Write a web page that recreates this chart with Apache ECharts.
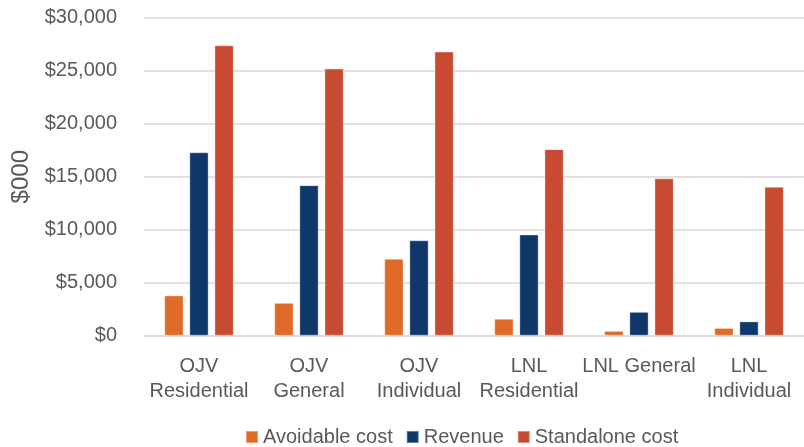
<!DOCTYPE html>
<html>
<head>
<meta charset="utf-8">
<script src="https://cdn.jsdelivr.net/npm/echarts@6/dist/echarts.min.js"></script>
<style>
  html, body { margin: 0; padding: 0; background: #fff; }
  #chart { width: 804px; height: 447px; }
</style>
</head>
<body>
<div id="chart"></div>
<script>
// Cost and revenue by service, in $000
const categories = ['OJV\nResidential', 'OJV\nGeneral', 'OJV\nIndividual', 'LNL\nResidential', 'LNL General', 'LNL\nIndividual'];
const avoidableCost = [3800, 3100, 7250, 1600, 450, 730];
const revenue = [17300, 14200, 9000, 9550, 2250, 1350];
const standaloneCost = [27400, 25200, 26800, 17600, 14850, 14050];
const yTicks = [0, 5000, 10000, 15000, 20000, 25000, 30000];

const font = "'Liberation Sans', Arial, sans-serif";
const textColor = '#595959';
const gridColor = '#D9D9D9';
const edge = 'rgba(255,255,255,0.35)';

const chart = echarts.init(document.getElementById('chart'), null, { renderer: 'canvas' });

const fmt = v => '$' + v.toLocaleString('en-US');

const barStyle = color => ({ color: color, borderColor: edge, borderWidth: 1 });

chart.setOption({
  animation: false,
  grid: { left: 144, right: 0, top: 17.7, bottom: 111.3, containLabel: false },
  legend: {
    top: 427,
    left: 245,
    padding: 0,
    itemWidth: 12,
    itemHeight: 12,
    itemGap: 13,
    icon: 'rect',
    textStyle: { fontFamily: font, fontSize: 20, color: textColor },
    data: ['Avoidable cost', 'Revenue', 'Standalone cost']
  },
  xAxis: {
    type: 'category',
    data: categories,
    axisTick: { show: false },
    axisLine: { lineStyle: { color: gridColor, width: 1.5 } },
    axisLabel: {
      interval: 0,
      margin: 18.5,
      fontFamily: font,
      fontSize: 20,
      lineHeight: 25,
      color: textColor
    }
  },
  yAxis: {
    type: 'value',
    min: yTicks[0],
    max: yTicks[yTicks.length - 1],
    interval: yTicks[1] - yTicks[0],
    name: '$000',
    nameLocation: 'middle',
    nameGap: 109.5,
    nameRotate: 90,
    nameTextStyle: { fontFamily: font, fontSize: 24, color: textColor },
    axisLine: { show: false },
    axisTick: { show: false },
    splitLine: { lineStyle: { color: gridColor, width: 1.5 } },
    axisLabel: {
      margin: 27,
      fontFamily: font,
      fontSize: 20,
      color: textColor,
      formatter: fmt
    }
  },
  series: [
    { name: 'Avoidable cost', type: 'bar', data: avoidableCost, barWidth: 19.3, barGap: '30%',
      itemStyle: barStyle('#E06A29') },
    { name: 'Revenue', type: 'bar', data: revenue, barWidth: 19.3, barGap: '30%',
      itemStyle: barStyle('#10376A') },
    { name: 'Standalone cost', type: 'bar', data: standaloneCost, barWidth: 19.3, barGap: '30%',
      itemStyle: barStyle('#C84B31') }
  ]
});
</script>
</body>
</html>
